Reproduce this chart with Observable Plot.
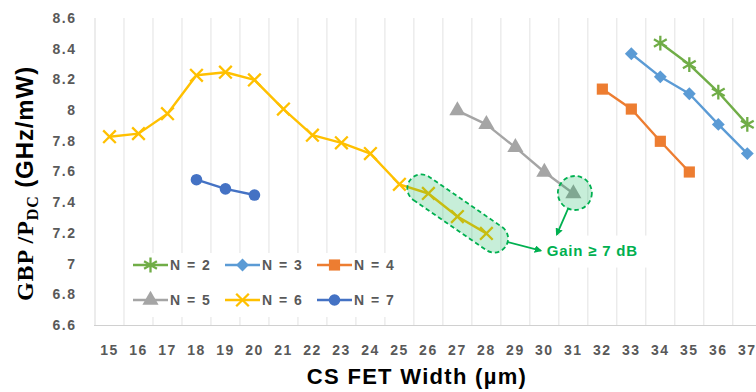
<!DOCTYPE html>
<html>
<head>
<meta charset="utf-8">
<script src="https://cdn.jsdelivr.net/npm/d3@7"></script>
<script src="https://cdn.jsdelivr.net/npm/@observablehq/plot@0.6"></script>
<style>
  html, body { margin: 0; padding: 0; background: #fff; overflow: hidden; }
  #chart { width: 756px; height: 392px; }
</style>
</head>
<body>
<div id="chart"></div>
<script>
// ---------- data ----------
const widthTicks = [15,16,17,18,19,20,21,22,23,24,25,26,27,28,29,30,31,32,33,34,35,36,37];
const gbpTicks = [6.6,6.8,7,7.2,7.4,7.6,7.8,8,8.2,8.4,8.6];
const gridLines = [15.5,16.5,17.5,18.5,19.5,20.5,21.5,22.5,23.5,24.5,25.5,26.5,27.5,28.5,29.5,30.5,31.5,32.5,33.5,34.5,35.5,36.5,37.5];

const seriesNames = ["N = 2", "N = 3", "N = 4", "N = 5", "N = 6", "N = 7"];

const widthN2 = [34, 35, 36, 37];
const gbpN2   = [8.44, 8.30, 8.12, 7.91];
const widthN3 = [33, 34, 35, 36, 37];
const gbpN3   = [8.37, 8.22, 8.11, 7.91, 7.72];
const widthN4 = [32, 33, 34, 35];
const gbpN4   = [8.14, 8.01, 7.80, 7.60];
const widthN5 = [27, 28, 29, 30, 31];
const gbpN5   = [8.00, 7.91, 7.76, 7.60, 7.46];
const widthN6 = [15, 16, 17, 18, 19, 20, 21, 22, 23, 24, 25, 26, 27, 28];
const gbpN6   = [7.83, 7.85, 7.98, 8.23, 8.25, 8.20, 8.01, 7.84, 7.79, 7.72, 7.52, 7.46, 7.31, 7.20];
const widthN7 = [18, 19, 20];
const gbpN7   = [7.55, 7.49, 7.45];

// annotation: highlighted N=6 points (26..28), highlighted N=5 point (31), label
const highlightN6 = [26, 28];
const highlightN5 = 31;
const gainLabel = "Gain ≥ 7 dB";
const gainLabelAt = [30.1, 7.085];

// ---------- styles ----------
const seriesColors  = ["#70AD47", "#5B9BD5", "#ED7D31", "#A5A5A5", "#FFC000", "#4472C4"];
const seriesSymbols = ["asterisk", "diamond2", "square", "triangle", "times", "circle"];
const symbolRadius  = [7, 5.8, 6.3, 6, 5.8, 5.8];
const symbolFilled  = [false, true, true, true, false, true];

const seriesWidths = [widthN2, widthN3, widthN4, widthN5, widthN6, widthN7];
const seriesGbp    = [gbpN2, gbpN3, gbpN4, gbpN5, gbpN6, gbpN7];
const seriesRows = seriesNames.map((name, i) =>
  seriesWidths[i].map((w, j) => ({series: name, w, v: seriesGbp[i][j]})));

const marks = [
  Plot.ruleX(gridLines, {stroke: "#e2e2e2", strokeWidth: 1}),
  Plot.ruleX([14.5], {stroke: "#d9d9d9", strokeWidth: 1}),
  Plot.ruleY([6.6], {stroke: "#d0d0d0", strokeWidth: 1.2})
];
seriesRows.forEach((rows, i) => {
  marks.push(Plot.line(rows, {x: "w", y: "v", stroke: seriesColors[i], strokeWidth: 2.4}));
  marks.push(Plot.dot(rows, symbolFilled[i]
    ? {x: "w", y: "v", symbol: seriesSymbols[i], r: symbolRadius[i], fill: seriesColors[i], stroke: "none"}
    : {x: "w", y: "v", symbol: seriesSymbols[i], r: symbolRadius[i], fill: "none", stroke: seriesColors[i], strokeWidth: 2.3}));
});

const plot = Plot.plot({
  width: 756,
  height: 392,
  marginLeft: 94,
  marginRight: 0,
  marginTop: 18,
  marginBottom: 67,
  style: {
    fontFamily: "'Liberation Sans', Arial, sans-serif",
    fontSize: "14px",
    fontWeight: "bold",
    letterSpacing: "1.5px",
    color: "#595959",
    background: "#fff",
    overflow: "visible"
  },
  x: {
    domain: [14.5, 37.5],
    range: [94.5, 761.3],
    ticks: widthTicks,
    tickFormat: d => String(d),
    tickSize: 0,
    tickPadding: 20,
    label: null
  },
  y: {
    domain: [6.6, 8.6],
    range: [325, 18],
    ticks: gbpTicks,
    tickFormat: d => String(d),
    tickSize: 0,
    tickPadding: 18,
    label: null
  },
  marks
});
document.getElementById("chart").appendChild(plot);

// ---------- overlays drawn through the plot's scales ----------
const svgEl = plot.tagName.toLowerCase() === "svg" ? plot : plot.querySelector("svg");
const svg = d3.select(svgEl);
const sx = plot.scale("x"), sy = plot.scale("y");
const X = v => sx.apply(v), Y = v => sy.apply(v);
const green = "#00B050";

// arrow marker
const defs = svg.append("defs");
defs.append("marker")
  .attr("id", "arrowhead").attr("viewBox", "0 0 10 10")
  .attr("refX", 8).attr("refY", 5)
  .attr("markerWidth", 4.2).attr("markerHeight", 4.2)
  .attr("orient", "auto").attr("markerUnits", "strokeWidth")
  .append("path").attr("d", "M0,0L10,5L0,10z").attr("fill", green);

// label with white background
const lx = X(gainLabelAt[0]), ly = Y(gainLabelAt[1]);
svg.append("rect").attr("x", lx - 6).attr("y", ly - 15).attr("width", 110).attr("height", 32).attr("fill", "#fff");
svg.append("text")
  .attr("x", lx).attr("y", ly).attr("dy", "0.35em")
  .attr("text-anchor", "start")
  .attr("fill", green)
  .style("font-family", "'Liberation Sans', Arial, sans-serif")
  .style("font-size", "15px").style("font-weight", "bold").style("letter-spacing", "0.8px")
  .text(gainLabel);

// capsule around N=6 points 26..28
const iA = widthN6.indexOf(highlightN6[0]), iB = widthN6.indexOf(highlightN6[1]);
const p1 = [X(widthN6[iA]), Y(gbpN6[iA])], p2 = [X(widthN6[iB]), Y(gbpN6[iB])];
const dx = p2[0] - p1[0], dy = p2[1] - p1[1], len = Math.hypot(dx, dy);
const u = [dx / len, dy / len], n = [-u[1], u[0]];
const R = 14;
const a = [p1[0] - u[0] * 8, p1[1] - u[1] * 8];
const b = [p2[0] + u[0] * 10, p2[1] + u[1] * 10];
const capsule = `M${a[0] + n[0]*R},${a[1] + n[1]*R}L${b[0] + n[0]*R},${b[1] + n[1]*R}` +
  `A${R},${R} 0 0 0 ${b[0] - n[0]*R},${b[1] - n[1]*R}` +
  `L${a[0] - n[0]*R},${a[1] - n[1]*R}` +
  `A${R},${R} 0 0 0 ${a[0] + n[0]*R},${a[1] + n[1]*R}Z`;

// circle around N=5 point 31
const iC = widthN5.indexOf(highlightN5);
const c = [X(widthN5[iC]) + 2, Y(gbpN5[iC])];
const Rc = 17;

// arrows
const t1 = [lx - 6, ly];
const d1 = [t1[0] - b[0], t1[1] - b[1]], l1 = Math.hypot(d1[0], d1[1]);
const s1 = [b[0] + d1[0] / l1 * R, b[1] + d1[1] / l1 * R];
const t2 = [lx + 10, ly - 16];
const d2 = [t2[0] - c[0], t2[1] - c[1]], l2 = Math.hypot(d2[0], d2[1]);
const s2 = [c[0] + d2[0] / l2 * Rc, c[1] + d2[1] / l2 * Rc];
[[s1, t1], [s2, t2]].forEach(([s, t]) => {
  svg.append("line")
    .attr("x1", s[0]).attr("y1", s[1]).attr("x2", t[0]).attr("y2", t[1])
    .attr("stroke", green).attr("stroke-width", 1.8)
    .attr("marker-end", "url(#arrowhead)");
});

svg.append("path").attr("d", capsule)
  .attr("fill", green).attr("fill-opacity", 0.22)
  .attr("stroke", green).attr("stroke-width", 1.8).attr("stroke-dasharray", "4.5,3");
svg.append("circle").attr("cx", c[0]).attr("cy", c[1]).attr("r", Rc)
  .attr("fill", green).attr("fill-opacity", 0.22)
  .attr("stroke", green).attr("stroke-width", 1.8).attr("stroke-dasharray", "4.5,3");

// legend (inside plot area)
const symbolTypes = {asterisk: d3.symbolAsterisk, diamond2: d3.symbolDiamond2, square: d3.symbolSquare,
  triangle: d3.symbolTriangle, times: d3.symbolTimes, circle: d3.symbolCircle};
const lg = svg.append("g");
lg.append("rect").attr("x", 127).attr("y", 253).attr("width", 278).attr("height", 64).attr("fill", "#fff");
seriesNames.forEach((name, i) => {
  const col = i % 3, row = Math.floor(i / 3);
  const x0 = 133 + col * 92, y0 = 265 + row * 35;
  lg.append("line").attr("x1", x0).attr("x2", x0 + 35).attr("y1", y0).attr("y2", y0)
    .attr("stroke", seriesColors[i]).attr("stroke-width", 2.4);
  const path = d3.symbol().type(symbolTypes[seriesSymbols[i]]).size(Math.PI * symbolRadius[i] ** 2)();
  const sym = lg.append("path").attr("d", path).attr("transform", `translate(${x0 + 17.5},${y0})`);
  if (symbolFilled[i]) sym.attr("fill", seriesColors[i]);
  else sym.attr("fill", "none").attr("stroke", seriesColors[i]).attr("stroke-width", 2.3);
  lg.append("text").attr("x", x0 + 37).attr("y", y0).attr("dy", "0.36em")
    .attr("text-anchor", "start")
    .attr("fill", "#595959")
    .style("font-size", "14px").style("font-weight", "bold").style("letter-spacing", "1.5px")
    .text(name);
});

// axis titles
svg.append("text")
  .attr("x", 417).attr("y", 384).attr("text-anchor", "middle")
  .attr("fill", "#000")
  .style("font-family", "'Liberation Sans', Arial, sans-serif")
  .style("font-size", "22px").style("font-weight", "bold").style("letter-spacing", "1.3px")
  .text("CS FET Width (µm)");

const yt = svg.append("text")
  .attr("transform", "translate(25,183.5) rotate(-90)")
  .attr("text-anchor", "middle").attr("dy", "0.35em")
  .attr("fill", "#000")
  .style("font-size", "24px").style("font-weight", "bold").style("letter-spacing", "0.9px");
yt.append("tspan").style("font-family", "'Liberation Serif', 'Times New Roman', serif").text("GBP /P");
yt.append("tspan").style("font-family", "'Liberation Serif', 'Times New Roman', serif").style("font-size", "16px").attr("dy", 5).text("DC");
yt.append("tspan").style("font-family", "'Liberation Sans', Arial, sans-serif").attr("dy", -5).text(" (GHz/mW)");
</script>
</body>
</html>
